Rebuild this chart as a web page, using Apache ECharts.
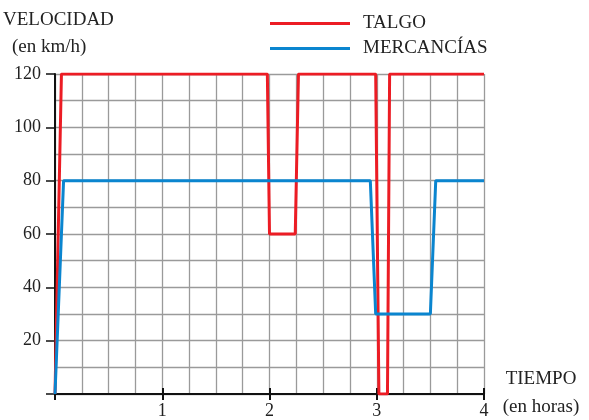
<!DOCTYPE html>
<html>
<head>
<meta charset="utf-8">
<script src="https://cdn.jsdelivr.net/npm/echarts@6/dist/echarts.min.js"></script>
<style>html,body{margin:0;padding:0;background:#fff}#c{width:589px;height:420px}</style>
</head>
<body>
<div id="c"></div>
<script>
var seriesNames = ['TALGO', 'MERCANCÍAS'];
var talgo = [[0,0],[0.06,120],[1.98,120],[2.0,60],[2.24,60],[2.27,120],[2.99,120],[3.02,0],[3.1,0],[3.12,120],[4,120]];
var mercancias = [[0,0],[0.08,80],[2.94,80],[2.99,30],[3.5,30],[3.55,80],[4,80]];
var xTicks = [1,2,3,4];
var yTicks = [20,40,60,80,100,120];
var yName = ['VELOCIDAD', '(en km/h)'];
var xName = ['TIEMPO', '(en horas)'];

var FONT = 'Liberation Serif';
var chart = echarts.init(document.getElementById('c'), null, {renderer:'canvas'});
var gridStyle = {color:'#9a9a9a', width:1.3};
chart.setOption({
  animation:false,
  textStyle:{fontFamily:FONT},
  grid:{left:55, right:105, top:74, bottom:26},
  legend:{
    data:seriesNames, orient:'vertical', left:265, top:9, icon:'rect',
    itemWidth:80, itemHeight:3, itemGap:6,
    textStyle:{fontFamily:FONT, fontSize:19, color:'#222', padding:[0,0,0,8]}
  },
  graphic:[
    {type:'text', left:3, top:11, style:{text:yName[0], font:'19px "Liberation Serif"', fill:'#222'}},
    {type:'text', left:12, top:38, style:{text:yName[1], font:'19px "Liberation Serif"', fill:'#222'}},
    {type:'text', x:541, y:379, style:{text:xName[0], font:'19px "Liberation Serif"', fill:'#222', align:'center', verticalAlign:'middle'}},
    {type:'text', x:541, y:407, style:{text:xName[1], font:'19px "Liberation Serif"', fill:'#222', align:'center', verticalAlign:'middle'}}
  ],
  xAxis:[{
    type:'value', min:0, max:4, interval:1,
    axisLine:{show:true, onZero:false, lineStyle:{color:'#111', width:2}},
    axisTick:{show:true, length:6, lineStyle:{color:'#111', width:2}},
    axisLabel:{fontSize:18, color:'#222', margin:8, formatter:function(v){return xTicks.indexOf(v)>=0?String(v):'';}},
    splitLine:{show:true, lineStyle:gridStyle},
    minorTick:{show:false, splitNumber:4},
    minorSplitLine:{show:true, lineStyle:gridStyle}
  },{
    type:'value', min:0, max:4, interval:1, position:'bottom',
    axisLine:{show:false}, axisTick:{show:true, inside:true, length:6, lineStyle:{color:'#111', width:2}},
    axisLabel:{show:false}, splitLine:{show:false}
  }],
  yAxis:[{
    type:'value', min:0, max:120, interval:20,
    axisLine:{show:true, onZero:false, lineStyle:{color:'#111', width:2}},
    axisTick:{show:true, length:9, lineStyle:{color:'#111', width:1.5}},
    axisLabel:{fontSize:18, color:'#222', margin:14, formatter:function(v){return yTicks.indexOf(v)>=0?String(v):'';}},
    splitLine:{show:true, lineStyle:gridStyle},
    minorTick:{show:false, splitNumber:2},
    minorSplitLine:{show:true, lineStyle:gridStyle}
  }],
  series:[
    {name:seriesNames[0], type:'line', data:talgo, symbol:'none', z:3, lineStyle:{color:'#ec1c24', width:3}, itemStyle:{color:'#ec1c24'}},
    {name:seriesNames[1], type:'line', data:mercancias, symbol:'none', z:4, lineStyle:{color:'#0a85cf', width:3}, itemStyle:{color:'#0a85cf'}}
  ]
});
</script>
</body>
</html>
